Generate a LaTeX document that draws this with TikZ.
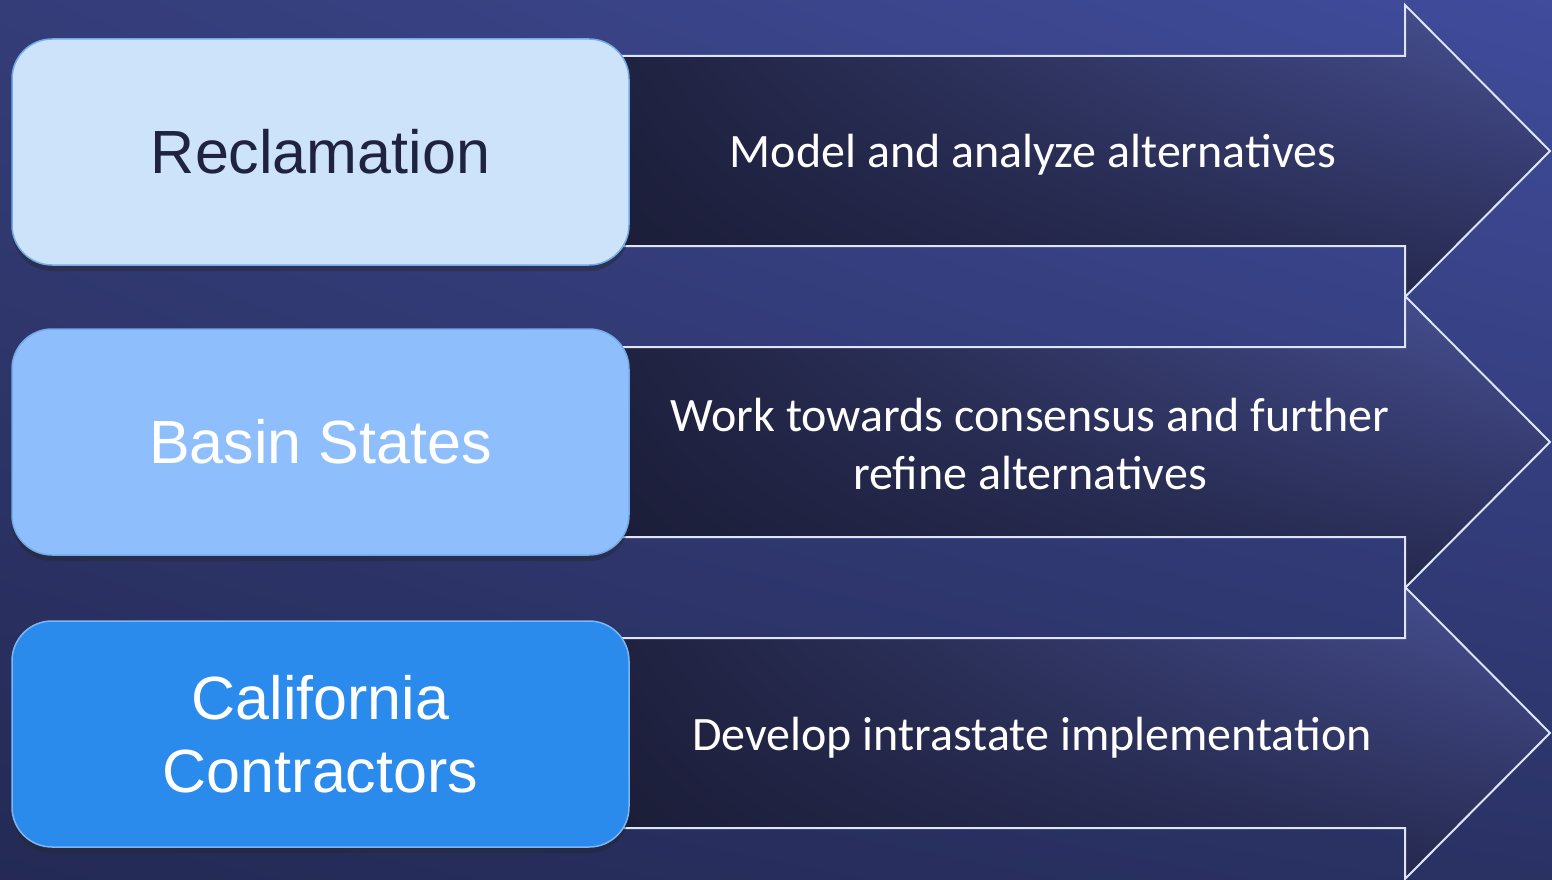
\documentclass[tikz,border=0pt]{standalone}
\usepackage{fontspec}
\setmainfont{Carlito}
\newfontfamily\boxfont{Liberation Sans}
\usetikzlibrary{shadows,shadings}
\definecolor{bgLL}{HTML}{242A55}
\definecolor{bgUR}{HTML}{404C9C}
\definecolor{bgUL}{HTML}{343D78}
\definecolor{bgLR}{HTML}{2A3264}
\definecolor{arUR}{HTML}{4A5398}
\definecolor{arUL}{HTML}{1F2240}
\definecolor{arLL}{HTML}{1A1C36}
\definecolor{arLR}{HTML}{272B52}
\definecolor{arline}{HTML}{DCE6F8}
\definecolor{boxA}{HTML}{CDE3FA}
\definecolor{boxB}{HTML}{8FBEFC}
\definecolor{boxC}{HTML}{2B8BEC}
\definecolor{boxline}{HTML}{72AAEA}
\definecolor{boxlineC}{HTML}{7DB6F2}
\definecolor{darktext}{HTML}{1F2340}
\tikzset{
  bigarrow/.style={draw=arline, line width=2pt, line join=miter,
    lower left=arLL, upper right=arUR, upper left=arUL, lower right=arLR},
  rolebox/.style={rectangle, rounded corners=40pt, minimum width=617pt,
    minimum height=226pt, line width=1.5pt, align=center,
    font=\boxfont\fontsize{61}{73}\selectfont,
    drop shadow={shadow xshift=0pt, shadow yshift=-6pt, opacity=0.4, fill=black!85}},
  steptext/.style={text=white, align=center, font=\fontsize{48}{58}\selectfont}
}
\begin{document}
\begin{tikzpicture}[x=1pt,y=-1pt]
\useasboundingbox (0,0) rectangle (1552,880);
\shade[lower left=bgLL, upper right=bgUR, upper left=bgUL, lower right=bgLR] (0,0) rectangle (1552,880);
% arrows
\foreach \yc in {151,442,733}{
  \shade[bigarrow] (600,\yc-95) -- (1405,\yc-95) -- (1405,\yc-146) -- (1550,\yc)
    -- (1405,\yc+146) -- (1405,\yc+95) -- (600,\yc+95) -- cycle;
}
% boxes
\node[rolebox, fill=boxA, draw=boxline, text=darktext] (recl) at (320.5,152) {Reclamation};
\node[rolebox, fill=boxB, draw=boxline, text=white] (basin) at (320.5,442) {Basin States};
\node[rolebox, fill=boxC, draw=boxlineC, text=white] (calif) at (320.5,734) {California\\Contractors};
% arrow texts
\node[steptext] (t1) at (1033,155) {Model and analyze alternatives};
\node[steptext] (t2) at (1030,444) {Work towards consensus and further\\refine alternatives};
\node[steptext] (t3) at (1032,738) {Develop intrastate implementation};
\end{tikzpicture}
\end{document}
